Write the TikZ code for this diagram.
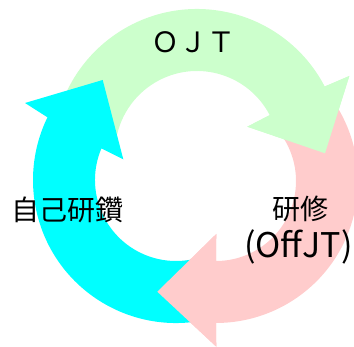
\documentclass[tikz,border=0pt]{standalone}
\usepackage{fontspec}
\setmainfont{Noto Sans CJK JP}
\definecolor{greenA}{HTML}{CCFFCC}
\definecolor{pinkA}{HTML}{FFCCCC}
\definecolor{cyanA}{HTML}{00FFFF}
\tikzset{
  greenfill/.style={fill=greenA, draw=none},
  pinkfill/.style={fill=pinkA, draw=none},
  cyanfill/.style={fill=cyanA, draw=none},
  lbl/.style={font=\fontsize{28}{30}\selectfont, text=black, inner sep=0pt},
  lbllat/.style={font=\fontsize{34}{36}\selectfont, text=black, inner sep=0pt}
}
\begin{document}
\begin{tikzpicture}[x=1pt,y=1pt]
\useasboundingbox (0,0) rectangle (354,-347);
% centres
\coordinate (gc) at (197,-153);
\coordinate (pc) at (216,-181);
\coordinate (cc) at (176,-180);
% heads
\coordinate (gbo) at (349.3,-76);
\coordinate (gtip) at (325,-153.3);
\coordinate (gbi) at (247.3,-126.7);
\coordinate (pbo) at (216.3,-346.7);
\coordinate (ptip) at (157.3,-291.7);
\coordinate (pbi) at (216.3,-234);
\coordinate (cbo) at (25,-103);
\coordinate (ctip) at (102.7,-80);
\coordinate (cbi) at (123.3,-159.3);
% green arrow
\fill[greenfill] ([shift={(gc)}]170:144pt) arc[start angle=170,end angle=27.5,radius=144pt]
  -- (gbo) -- (gtip) -- (gbi) -- ([shift={(gc)}]27.5:82pt)
  arc[start angle=27.5,end angle=170,radius=82pt] -- cycle;
% pink arrow
\fill[pinkfill] ([shift={(pc)}]35:142pt) arc[start angle=35,end angle=-90,radius=142pt]
  -- (pbo) -- (ptip) -- (pbi) -- ([shift={(pc)}]-90:80pt)
  arc[start angle=-90,end angle=35,radius=80pt] -- cycle;
% cyan arrow
\fill[cyanfill] ([shift={(cc)}]285:143pt) arc[start angle=285,end angle=154,radius=143pt]
  -- (cbo) -- (ctip) -- (cbi) -- ([shift={(cc)}]157:81pt)
  arc[start angle=157,end angle=285,radius=81pt] -- cycle;
% heads on top of the next tails
\fill[greenfill] ([shift={(gc)}]27.5:144pt) -- (gbo) -- (gtip) -- (gbi) -- ([shift={(gc)}]27.5:82pt) -- cycle;
\fill[pinkfill] ([shift={(pc)}]-90:142pt) -- (pbo) -- (ptip) -- (pbi) -- ([shift={(pc)}]-90:80pt) -- cycle;
% labels
\node[lbl, anchor=base] (ojt) at (193,-52.5) {ＯＪＴ};
\node[lbl, anchor=base] (jiko) at (68,-221) {自己研鑽};
\node[lbl, anchor=base] (kenshu) at (300,-219.7) {研修};
\node[lbllat, anchor=base] (offjt) at (298.5,-257.5) {(OffJT)};
\end{tikzpicture}
\end{document}
